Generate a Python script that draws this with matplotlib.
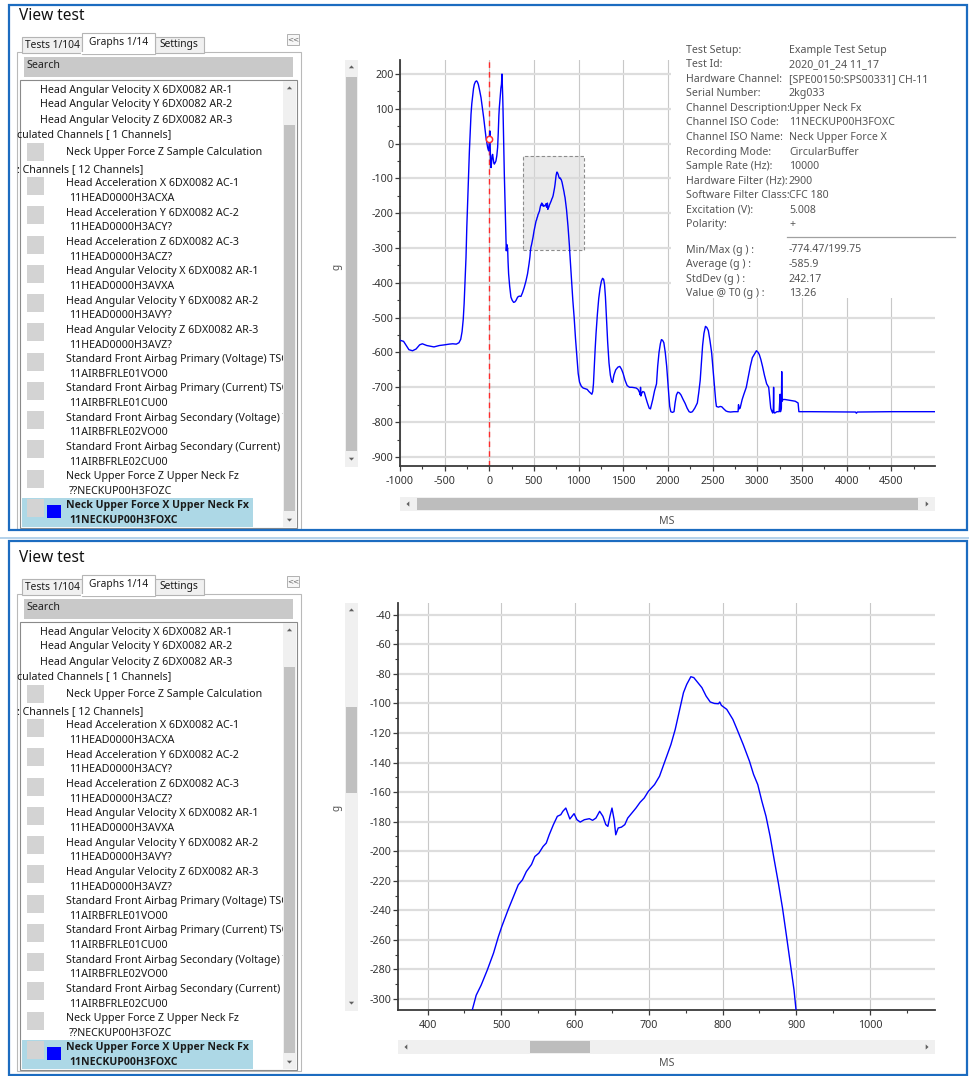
import matplotlib
matplotlib.use("Agg")
import matplotlib.pyplot as plt
from matplotlib.patches import Rectangle, Polygon
from matplotlib.ticker import MultipleLocator
import matplotlib.font_manager as fm
from matplotlib.textpath import TextPath

# ---------------------------------------------------------------- data
time_ms = [-1000, -960, -930, -900, -860, -820, -780, -750, -700, -660, -620, -560, -500,
           -450, -410, -370, -340, -320, -305, -292, -282, -272, -261, -252, -242, -232,
           -223, -214, -205, -196, -186, -177, -168, -155, -142, -132, -123, -108, -93,
           -78, -63, -50, -37, -28, -19, -12, -7, -3, 0, 4, 7, 10, 14, 19, 25, 31, 37, 44,
           50, 56, 65, 74, 84, 93, 100, 107, 112, 120, 130, 136, 142, 146, 150, 153, 160,
           168, 174, 179, 185, 190, 196, 200, 205, 210, 216, 228, 242, 256, 272, 285, 298,
           317, 335, 354, 372, 391, 410, 428, 445, 455,
           460.4, 466, 472.7, 481, 489.5, 496, 500.7, 509, 517.5, 523, 528.7, 534, 541,
           545.5, 551, 556.7, 561, 565, 570.7, 576, 580.7, 583.5, 587.5, 593, 598.7, 602.6,
           607, 612.6, 619.4, 623.8, 628.3, 633.4, 637.8, 641.7, 644.5, 647.3, 650.1, 653,
           655.2, 658.5, 663, 667.5, 671.4, 677, 682.6, 688.2, 693.8, 699.4, 707.8, 714.5,
           721.8, 730, 735.8, 741.4, 747, 751.4, 757, 761, 766.5, 772, 777.7, 783.3, 788.9,
           794.5, 796.2, 798.4, 805.7, 814, 819.7, 828, 836.5, 842, 847.7, 853.3, 858.9,
           864.5, 870, 875.7, 881.3, 886.8, 892.4, 896.9, 899.7,
           910, 920, 935, 950, 965, 980, 995, 1010, 1030, 1050, 1075, 1096, 1115, 1132, 1148,
           1158, 1166, 1175, 1185, 1195, 1210, 1225, 1240, 1255, 1268, 1280, 1290, 1300,
           1312, 1325, 1340, 1355, 1370, 1380, 1395, 1415, 1440, 1461, 1480, 1498, 1520,
           1543, 1570, 1598, 1620, 1644, 1665, 1682, 1690, 1693, 1697, 1705, 1718, 1735,
           1750, 1770, 1790, 1804, 1815, 1830, 1850, 1872, 1885, 1900, 1915, 1927, 1940,
           1954, 1970, 1986, 2000, 2009, 2020, 2032, 2050, 2068, 2080, 2095, 2110, 2128,
           2146, 2170, 2192, 2215, 2237, 2255, 2274, 2300, 2320, 2329, 2345, 2361, 2375,
           2388, 2403, 2420, 2435, 2452, 2470, 2489, 2505, 2521, 2535, 2543, 2565, 2585,
           2603, 2625, 2650, 2671, 2700, 2740, 2785, 2790, 2797, 2808, 2831, 2850, 2877,
           2900, 2922, 2945, 2968, 2991, 3010, 3023, 3040, 3059, 3080, 3105, 3128, 3140,
           3151, 3165, 3174, 3180, 3183, 3186, 3195, 3220, 3245, 3256, 3260, 3270, 3274,
           3278, 3288, 3310, 3333, 3380, 3425, 3457, 3466, 3600, 4100, 4110, 4120, 4500,
           5000]
force_g = [-565, -568, -580, -592, -595, -590, -578, -575, -580, -582, -584, -580, -578,
           -576, -575, -576, -572, -562, -540, -505, -460, -400, -327, -240, -164, -90,
           -21, 35, 84, 115, 137, 158, 170, 178, 180, 176, 170, 152, 132,
           104, 74, 45, 17, 2, -11, -18, -21, -5, 13, 30, 36, -10, -50, -69, -55, -35, -31, -45,
           -55, -59, -55, -50, -35, -11, 30, 80, 103, 130, 160, 170, 199.75, 170, 135, 103, 10,
           -88, -150, -202, -260, -308, -290, -305, -300, -340, -374, -410, -441, -450, -456, -455, -451,
           -441, -438, -439, -428, -413, -395, -374, -345, -325,
           -308, -297.5, -290.7, -280.5, -269, -258, -251, -240, -229.6, -222.8, -219.4, -213.8, -209,
           -203.6, -201.3, -196.8, -194.5, -188.9, -182, -176.4, -175.3, -173, -170.8, -178.2, -174.6, -178.7,
           -180.3, -178.7, -178, -179.1, -177.6, -173, -176.4, -182, -183.2, -176.4, -170.8, -178.7,
           -188.9, -184.3, -183.7, -182, -177.6, -174.2, -170.8, -166.9, -164, -159.5, -154.9, -149.3,
           -139.1, -127.8, -117.6, -105.2, -92.7, -87.1, -81.9, -82.5, -85.9, -89.3, -95, -99, -100,
           -100.2, -99, -101.3, -104, -110.8, -117.6, -127.8, -139.1, -148, -154.9, -166.2, -176.4,
           -190, -205.8, -221.7, -238.6, -257.9, -278.2, -294, -308,
           -350, -390, -450, -500, -560, -610, -660, -685, -697, -702, -704, -706, -712, -716, -720,
           -712, -690, -640, -590, -545, -490, -445, -415, -395, -387, -390, -405, -440,
           -500, -570, -630, -665, -683, -686, -665, -650, -642, -640, -648, -660, -680,
           -695, -700, -700, -701, -702, -706, -715, -722, -700, -725, -718, -712, -714,
           -728, -745, -760, -762, -750, -735, -710, -690, -640, -600, -575, -563, -565,
           -572, -600, -640, -690, -720, -755, -770, -772, -770, -745, -722, -714, -716,
           -722, -735, -746, -760, -770, -772, -770, -760, -750, -745, -715, -680, -630,
           -580, -545, -525, -528, -537, -565, -600, -650, -700, -740, -755, -757, -755,
           -756, -762, -768, -770, -771, -770, -770, -750, -762, -760, -735, -720, -700,
           -670, -640, -615, -605, -595, -600, -606, -620, -640, -665, -690, -700, -730,
           -760, -770, -774, -760, -700, -770, -774, -770, -770, -720, -770, -760, -655,
           -740, -735, -735, -736, -738, -740, -745, -770, -770, -771, -774.47, -771, -770,
           -770]

t0_value_g = 13.26
zoom_window_ms = [375, 1055]
zoom_window_g = [-307, -35]

overview_xlim = (-1000, 4990)
overview_ylim = (-926, 240)
detail_xlim = (360, 1088)
detail_ylim = (-307.5, -32)

x_label = "MS"
y_label = "g"

window_title = "View test"
tab_labels = ["Tests 1/104", "Graphs 1/14", "Settings"]
search_label = "Search"
tree_head = ["Head Angular Velocity X 6DX0082 AR-1",
             "Head Angular Velocity Y 6DX0082 AR-2",
             "Head Angular Velocity Z 6DX0082 AR-3"]
group_calc = "culated Channels [ 1 Channels]"
calc_item = "Neck Upper Force Z Sample Calculation"
group_raw = ": Channels [ 12 Channels]"
channel_names = ["Head Acceleration X 6DX0082 AC-1",
                 "Head Acceleration Y 6DX0082 AC-2",
                 "Head Acceleration Z 6DX0082 AC-3",
                 "Head Angular Velocity X 6DX0082 AR-1",
                 "Head Angular Velocity Y 6DX0082 AR-2",
                 "Head Angular Velocity Z 6DX0082 AR-3",
                 "Standard Front Airbag Primary (Voltage) TSQ",
                 "Standard Front Airbag Primary (Current) TSQ",
                 "Standard Front Airbag Secondary (Voltage) T",
                 "Standard Front Airbag Secondary (Current) T",
                 "Neck Upper Force Z Upper Neck Fz",
                 "Neck Upper Force X Upper Neck Fx"]
channel_codes = ["11HEAD0000H3ACXA", "11HEAD0000H3ACY?", "11HEAD0000H3ACZ?",
                 "11HEAD0000H3AVXA", "11HEAD0000H3AVY?", "11HEAD0000H3AVZ?",
                 "11AIRBFRLE01VO00", "11AIRBFRLE01CU00", "11AIRBFRLE02VO00",
                 "11AIRBFRLE02CU00", "??NECKUP00H3FOZC", "11NECKUP00H3FOXC"]

info_labels = ["Test Setup:", "Test Id:", "Hardware Channel:", "Serial Number:",
               "Channel Description:", "Channel ISO Code:", "Channel ISO Name:",
               "Recording Mode:", "Sample Rate (Hz):", "Hardware Filter (Hz):",
               "Software Filter Class:", "Excitation (V):", "Polarity:"]
info_values = ["Example Test Setup", "2020_01_24 11_17", "[SPE00150:SPS00331] CH-11",
               "2kg033", "Upper Neck Fx", "11NECKUP00H3FOXC", "Neck Upper Force X",
               "CircularBuffer", "10000", "2900", "CFC 180", "5.008", "+"]
stat_labels = ["Min/Max (g ) :", "Average (g ) :", "StdDev (g ) :", "Value @ T0 (g ) :"]
stat_values = ["-774.47/199.75", "-585.9", "242.17", "13.26"]

# ---------------------------------------------------------------- setup
W, H, DPI = 969, 1076, 100
FONT = "Noto Sans"
plt.rcParams["font.family"] = [FONT, "DejaVu Sans"]
plt.rcParams["axes.unicode_minus"] = False


def pick_bold_family():
    for fam in ["Noto Sans", "Open Sans", "Roboto", "Lato", "Liberation Sans", "DejaVu Sans"]:
        try:
            path = fm.findfont(fm.FontProperties(family=fam, weight="bold"),
                               fallback_to_default=False)
        except Exception:
            continue
        if "bold" in path.lower():
            return fam
    return "DejaVu Sans"


BOLD_FONT = pick_bold_family()


def text_w(s, size, weight="normal", family=FONT):
    fp = fm.FontProperties(family=family, size=size, weight=weight)
    return TextPath((0, 0), s, prop=fp).get_extents().width * DPI / 72.0


def fit(s, px, weight="normal", family=FONT):
    return 10.0 * px / text_w(s, 10.0, weight, family)


LIST_FS = fit("Head Angular Velocity X 6DX0082 AR-1", 189)
BOLD_FS = fit("Neck Upper Force X Upper Neck Fx", 181, "bold", BOLD_FONT)
TITLE_FS = fit("View test", 65)
TICK_FS = fit("-1000", 27)
INFO_FS = fit("Channel Description:", 102)
TAB_FS = fit("Graphs 1/14", 58)

fig = plt.figure(figsize=(W / DPI, H / DPI), dpi=DPI)
fig.patch.set_facecolor("white")

ui = fig.add_axes([0, 0, 1, 1], zorder=0)
ui.set_xlim(0, W)
ui.set_ylim(H, 0)
ui.axis("off")

ov = fig.add_axes([0, 0, 1, 1], zorder=10)
ov.set_xlim(0, W)
ov.set_ylim(H, 0)
ov.axis("off")
ov.patch.set_alpha(0)


def rect(ax, x0, y0, x1, y1, fc="none", ec="none", lw=0.8, ls="-", z=1):
    r = Rectangle((x0, y0), x1 - x0, y1 - y0, facecolor=fc, edgecolor=ec,
                  linewidth=lw, linestyle=ls, zorder=z)
    ax.add_patch(r)
    return r


def txt(ax, x, y, s, size, color="#1a1a1a", ha="left", va="center",
        weight="normal", z=3, clip=None, rot=0, family=None):
    kw = {}
    if family is not None:
        kw["family"] = family
    t = ax.text(x, y, s, fontsize=size, color=color, ha=ha, va=va,
                fontweight=weight, zorder=z, rotation=rot, **kw)
    if clip is not None:
        t.set_clip_on(True)
        t.set_clip_path(clip)
    return t


def tri(ax, cx, cy, d, s=2.6, color="#606060"):
    if d == "up":
        pts = [(cx - s, cy + s * 0.5), (cx + s, cy + s * 0.5), (cx, cy - s * 0.6)]
    elif d == "down":
        pts = [(cx - s, cy - s * 0.5), (cx + s, cy - s * 0.5), (cx, cy + s * 0.6)]
    elif d == "left":
        pts = [(cx + s * 0.5, cy - s), (cx + s * 0.5, cy + s), (cx - s * 0.6, cy)]
    else:
        pts = [(cx - s * 0.5, cy - s), (cx - s * 0.5, cy + s), (cx + s * 0.6, cy)]
    ax.add_patch(Polygon(pts, closed=True, facecolor=color, edgecolor="none", zorder=4))


BLUE = "#1c6cc0"


def left_panel(oy, border_top, border_bottom):
    rect(ui, 9, border_top, 967, border_bottom, ec=BLUE, lw=1.6, z=6)
    txt(ui, 19, 16 + oy, window_title, TITLE_FS, color="#111111")
    # content frame
    rect(ui, 17, 52 + oy, 301, 529 + oy, fc="white", ec="#b9b9b9", lw=0.8, z=1)
    # tabs
    rect(ui, 22, 37 + oy, 82, 53 + oy, fc="#f0f0f0", ec="#b4b4b4", lw=0.8, z=2)
    rect(ui, 155, 37 + oy, 204, 53 + oy, fc="#f0f0f0", ec="#b4b4b4", lw=0.8, z=2)
    rect(ui, 82, 33 + oy, 155, 53.5 + oy, fc="white", ec="#b4b4b4", lw=0.8, z=2)
    ui.plot([82.5, 154.5], [52.8 + oy, 52.8 + oy], color="white", lw=1.5, zorder=2.5)
    txt(ui, 25, 45 + oy, tab_labels[0], TAB_FS)
    txt(ui, 89, 43 + oy, tab_labels[1], TAB_FS)
    txt(ui, 159, 45 + oy, tab_labels[2], TAB_FS)
    # collapse button
    rect(ui, 287, 34 + oy, 299, 45 + oy, fc="#f7f7f7", ec="#b0b0b0", lw=0.7, z=2)
    txt(ui, 293, 39.5 + oy, "<<", 5.2, color="#666666", ha="center", family="DejaVu Sans")
    # search
    rect(ui, 24, 57 + oy, 293, 77 + oy, fc="#c9c9c9", z=2)
    txt(ui, 27, 66 + oy, search_label, LIST_FS, color="#222222")
    # list box
    rect(ui, 20, 80 + oy, 297, 528 + oy, fc="white", ec="#8a8a8a", lw=0.8, z=2)
    clip = Rectangle((17, 81 + oy), 266.5, 446, transform=ui.transData)
    # scrollbar
    rect(ui, 283, 81 + oy, 296, 527 + oy, fc="#f0f0f0", z=3)
    rect(ui, 284, 125 + oy, 295, 511 + oy, fc="#c2c2c2", z=3.5)
    tri(ui, 289.5, 88 + oy, "up")
    tri(ui, 289.5, 520 + oy, "down")
    # tree rows
    for i, s in enumerate(tree_head):
        txt(ui, 40, 90 + 15 * i + oy, s, LIST_FS, clip=clip)
    txt(ui, 17.5, 135 + oy, group_calc, LIST_FS, clip=clip)
    rect(ui, 27, 143 + oy, 44, 161 + oy, fc="#d3d3d3", z=3)
    txt(ui, 66, 152 + oy, calc_item, LIST_FS, clip=clip)
    txt(ui, 17.5, 170 + oy, group_raw, LIST_FS, clip=clip)
    step = 29.27
    for i, (nm, code) in enumerate(zip(channel_names, channel_codes)):
        y1 = 184 + step * i + oy
        last = i == len(channel_names) - 1
        if last:
            rect(ui, 22, y1 - 8, 253, y1 + 21.5, fc="#add8e6", z=2.5)
            rect(ui, 47, y1 - 1, 61, y1 + 12.5, fc="#0000ff", z=3.2)
            rect(ui, 27, y1 - 7, 44, y1 + 11, fc="#d3d3d3", z=3)
            txt(ui, 66, y1, nm, BOLD_FS, weight="bold", clip=clip, family=BOLD_FONT)
            txt(ui, 69, y1 + 14.7, code, BOLD_FS, weight="bold", clip=clip, family=BOLD_FONT)
        else:
            rect(ui, 27, y1 - 7, 44, y1 + 11, fc="#d3d3d3", z=3)
            txt(ui, 66, y1, nm, LIST_FS, clip=clip)
            txt(ui, 69, y1 + 14.7, code, LIST_FS, clip=clip)


left_panel(0, 5, 530)
ui.plot([0, W], [538, 538], color="#a8cbe8", lw=1.2, zorder=5)
left_panel(542, 541, 1074.5)


def chart_axes(x0, y0, x1, y1):
    return fig.add_axes([x0 / W, 1 - y1 / H, (x1 - x0) / W, (y1 - y0) / H], zorder=1)


def style(ax, xlim, ylim, xmaj, xmin, ymaj, ymin):
    ax.set_xlim(*xlim)
    ax.set_ylim(*ylim)
    ax.xaxis.set_major_locator(MultipleLocator(xmaj))
    ax.xaxis.set_minor_locator(MultipleLocator(xmin))
    ax.yaxis.set_major_locator(MultipleLocator(ymaj))
    ax.yaxis.set_minor_locator(MultipleLocator(ymin))
    for sp in ("top", "right"):
        ax.spines[sp].set_visible(False)
    for sp in ("left", "bottom"):
        ax.spines[sp].set_color("#3a3a3a")
        ax.spines[sp].set_linewidth(1.3)
    ax.tick_params(which="major", direction="out", length=3.5, width=0.9,
                   color="#3a3a3a", labelsize=TICK_FS, labelcolor="#333333")
    ax.tick_params(which="minor", direction="out", length=2.2, width=0.8, color="#3a3a3a")
    ax.tick_params(axis="y", pad=1.2)
    ax.tick_params(axis="x", pad=3.5)
    ax.grid(True, axis="x", which="major", color="#c8c8c8", lw=0.8)
    ax.grid(True, axis="y", which="major", color="#dddddd", lw=1.6)
    ax.set_axisbelow(True)
    ax.set_facecolor("white")


# ---------------- overview chart
ax1 = chart_axes(400, 60, 935, 466)
style(ax1, overview_xlim, overview_ylim, 500, 250, 100, 50)
ax1.fill_between(zoom_window_ms, [zoom_window_g[0]] * 2, [zoom_window_g[1]] * 2,
                 facecolor="#d9d9d9", alpha=0.55, edgecolor="none", zorder=1.5)
ax1.plot([zoom_window_ms[0], zoom_window_ms[1], zoom_window_ms[1], zoom_window_ms[0], zoom_window_ms[0]],
         [zoom_window_g[0], zoom_window_g[0], zoom_window_g[1], zoom_window_g[1], zoom_window_g[0]],
         color="#8c8c8c", lw=0.8, ls=(0, (3, 2)), zorder=1.6)
ax1.axvline(0, color="#ff2b2b", lw=1.0, ls=(0, (4, 3)), zorder=2)
ax1.plot(time_ms, force_g, color="#0000ff", lw=1.0, zorder=3)
ax1.plot([0], [t0_value_g], marker="o", ms=4.5, mfc="white", mec="#ff3030", mew=1.1, zorder=4)

# ---------------- detail chart
ax2 = chart_axes(398, 603, 935, 1010)
style(ax2, detail_xlim, detail_ylim, 100, 50, 20, 10)
ax2.plot(time_ms, force_g, color="#0000ff", lw=1.0, zorder=3)

# ---------------- scrollbars and axis titles
for (ytop, ybot, th0, th1, gy) in [(60, 467, 77, 451, 267), (603, 1011, 707, 793, 808)]:
    rect(ui, 345, ytop, 358, ybot, fc="#f0f0f0", z=2)
    rect(ui, 346, th0, 357, th1, fc="#c0c0c0", z=2.5)
    tri(ui, 351.5, ytop + 7, "up")
    tri(ui, 351.5, ybot - 8, "down")
    txt(ui, 337, gy, y_label, LIST_FS * 0.95, color="#555555", ha="center", rot=90)

for (x0, x1, yy, th0, th1, ly) in [(400, 935, 497, 417, 918, 521), (398, 935, 1040, 530, 590, 1064)]:
    rect(ui, x0, yy, x1, yy + 14, fc="#f0f0f0", z=2)
    rect(ui, th0, yy + 1, th1, yy + 13, fc="#bdbdbd", z=2.5)
    tri(ui, x0 + 8, yy + 7, "left")
    tri(ui, x1 - 8, yy + 7, "right")
    txt(ui, 667, ly, x_label, LIST_FS, color="#555555", ha="center")

# ---------------- info box (overlay)
rect(ov, 671, 40, 962, 298, fc="white", z=1)
info_y0, info_dy = 50, 14.58
for i, (lab, val) in enumerate(zip(info_labels, info_values)):
    y = info_y0 + info_dy * i
    txt(ov, 686, y, lab, INFO_FS, color="#555555")
    txt(ov, 789, y, val, INFO_FS, color="#555555")
ov.plot([787, 955], [237, 237], color="#a0a0a0", lw=0.9, zorder=3)
for i, (lab, val) in enumerate(zip(stat_labels, stat_values)):
    y = 250 + 14.6 * i
    txt(ov, 686, y, lab, INFO_FS, color="#555555")
    txt(ov, 789, y, val, INFO_FS, color="#555555")

fig.savefig("out.png", dpi=DPI, facecolor="white")
